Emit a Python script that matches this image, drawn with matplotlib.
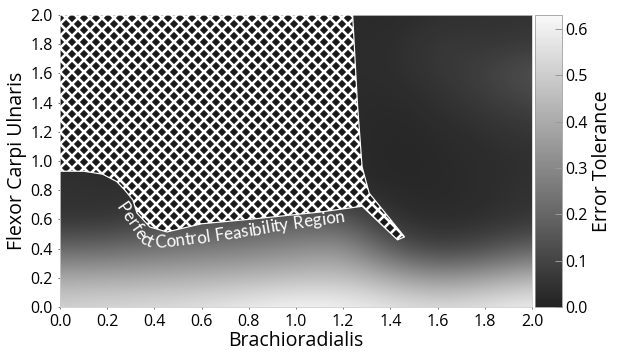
import numpy as np
import matplotlib
matplotlib.use("Agg")
import matplotlib.pyplot as plt
from matplotlib.colors import LinearSegmentedColormap
from matplotlib.patches import Polygon

plt.rcParams['font.family'] = ['Open Sans', 'DejaVu Sans']
plt.rcParams['hatch.linewidth'] = 2.6

# grid of muscle activations (Brachioradialis on x, Flexor Carpi Ulnaris on y)
grid_x = [0.0, 0.2, 0.4, 0.6, 0.8, 1.0, 1.2, 1.4, 1.6, 1.8, 2.0]
grid_y = [0.0, 0.2, 0.4, 0.6, 0.8, 1.0, 1.2, 1.4, 1.6, 1.8, 2.0]

# error tolerance, one row per grid_y value
tol_y00 = [0.52, 0.54, 0.55, 0.57, 0.60, 0.63, 0.62, 0.58, 0.55, 0.58, 0.61]
tol_y02 = [0.40, 0.40, 0.41, 0.42, 0.44, 0.46, 0.47, 0.40, 0.33, 0.37, 0.43]
tol_y04 = [0.20, 0.21, 0.24, 0.26, 0.28, 0.31, 0.34, 0.16, 0.08, 0.12, 0.19]
tol_y06 = [0.05, 0.05, 0.09, 0.12, 0.14, 0.16, 0.17, 0.04, 0.025, 0.035, 0.06]
tol_y08 = [0.05, 0.04, 0.04, 0.03, 0.03, 0.03, 0.03, 0.02, 0.02, 0.03, 0.05]
tol_y10 = [0.03, 0.03, 0.03, 0.03, 0.03, 0.03, 0.03, 0.015, 0.02, 0.03, 0.04]
tol_y12 = [0.03, 0.03, 0.03, 0.03, 0.03, 0.03, 0.03, 0.015, 0.025, 0.04, 0.06]
tol_y14 = [0.03, 0.03, 0.03, 0.03, 0.03, 0.03, 0.03, 0.02, 0.04, 0.07, 0.10]
tol_y16 = [0.03, 0.03, 0.03, 0.03, 0.03, 0.03, 0.03, 0.03, 0.06, 0.09, 0.15]
tol_y18 = [0.03, 0.03, 0.03, 0.03, 0.03, 0.03, 0.03, 0.03, 0.07, 0.06, 0.07]
tol_y20 = [0.03, 0.03, 0.03, 0.03, 0.03, 0.03, 0.03, 0.02, 0.04, 0.04, 0.05]

# outline of the perfect control feasibility region
region_x = [0.0, 1.24, 1.26, 1.28, 1.31, 1.46, 1.43, 1.28, 1.10, 0.80, 0.60,
            0.453, 0.381, 0.326, 0.309, 0.275, 0.24, 0.18, 0.10, 0.0]
region_y = [2.0, 2.0, 1.40, 0.96, 0.78, 0.48, 0.46, 0.69, 0.65, 0.60, 0.57,
            0.514, 0.548, 0.644, 0.733, 0.80, 0.86, 0.91, 0.93, 0.93]

# baseline of the curved label
label_x = [0.237, 0.343, 0.390, 0.508, 0.636, 0.805, 0.975, 1.229]
label_y = [0.685, 0.438, 0.404, 0.418, 0.445, 0.486, 0.534, 0.589]

ticks = [0.0, 0.2, 0.4, 0.6, 0.8, 1.0, 1.2, 1.4, 1.6, 1.8, 2.0]
cbar_ticks = [0.0, 0.1, 0.2, 0.3, 0.4, 0.5, 0.6]

tol = np.array([tol_y00, tol_y02, tol_y04, tol_y06, tol_y08, tol_y10,
                tol_y12, tol_y14, tol_y16, tol_y18, tol_y20])

cmap = LinearSegmentedColormap.from_list('grey', ['#222222', '#f9f9f9'])

fig = plt.figure(figsize=(619 / 72, 362 / 72), dpi=72)
ax = fig.add_axes([60 / 619, 1 - 307 / 362, 472 / 619, 292 / 362])
cax = fig.add_axes([535 / 619, 1 - 307 / 362, 27 / 619, 292 / 362])

step = grid_x[1] - grid_x[0]
im = ax.imshow(tol, origin='lower', cmap=cmap, vmin=0, vmax=0.63,
               interpolation='bicubic', aspect='auto',
               extent=(grid_x[0] - step / 2, grid_x[-1] + step / 2,
                       grid_y[0] - step / 2, grid_y[-1] + step / 2))

ax.add_patch(Polygon(np.column_stack([region_x, region_y]), closed=True,
                     facecolor='#1a1a1a', edgecolor='white', linewidth=1.2,
                     hatch='xx', zorder=3))

ax.set_xlim(0, 2)
ax.set_ylim(0, 2)
ax.set_xticks(ticks)
ax.set_yticks(ticks)
ax.set_xticklabels([f"{t:.1f}" for t in ticks])
ax.set_yticklabels([f"{t:.1f}" for t in ticks])
ax.tick_params(labelsize=16, length=2, color='#555555', pad=5)
for s in ax.spines.values():
    s.set_color('#cccccc')
    s.set_linewidth(0.8)
ax.set_xlabel("Brachioradialis", fontsize=19.5, labelpad=1)
ax.set_ylabel("Flexor Carpi Ulnaris", fontsize=19.5, labelpad=4)

cb = fig.colorbar(im, cax=cax, ticks=cbar_ticks)
cb.ax.set_yticklabels([f"{t:.1f}" for t in cbar_ticks])
cb.ax.tick_params(labelsize=16, direction='in', length=7, width=1,
                  color='#999999', pad=3)
cb.outline.set_edgecolor('#999999')
cb.set_label("Error Tolerance", fontsize=19.5, labelpad=5)


def curved_text(ax, text, xs, ys, size, color, family):
    fig = ax.figure
    fig.canvas.draw()
    renderer = fig.canvas.get_renderer()
    pts = ax.transData.transform(np.column_stack([xs, ys]))
    seg = np.hypot(*np.diff(pts, axis=0).T)
    cum = np.concatenate([[0], np.cumsum(seg)])
    inv = ax.transData.inverted()
    probe = ax.text(0, 0, '', fontsize=size, family=family)

    def width(s):
        n = len(s) - len(s.rstrip())
        s = s.rstrip()
        w = 0.0
        if s:
            probe.set_text(s)
            w = probe.get_window_extent(renderer).width
        return w + n * size * 0.15

    for i, ch in enumerate(text):
        if ch == ' ':
            continue
        b = width(text[:i + 1])
        probe.set_text(ch)
        wc = probe.get_window_extent(renderer).width
        mid = b - wc / 2
        px = np.interp(mid, cum, pts[:, 0])
        py = np.interp(mid, cum, pts[:, 1])
        x0, y0 = np.interp(mid - 2, cum, pts[:, 0]), np.interp(mid - 2, cum, pts[:, 1])
        x1, y1 = np.interp(mid + 2, cum, pts[:, 0]), np.interp(mid + 2, cum, pts[:, 1])
        ang = np.degrees(np.arctan2(y1 - y0, x1 - x0))
        ax.text(*inv.transform((px, py)), ch, fontsize=size, color=color,
                family=family, ha='center', va='baseline', rotation=ang,
                rotation_mode='anchor', zorder=4)
    probe.remove()


curved_text(ax, "Perfect Control Feasibility Region", label_x, label_y, 17,
            'white', ['Lato', 'DejaVu Sans'])

fig.savefig("out.png", dpi=72)
